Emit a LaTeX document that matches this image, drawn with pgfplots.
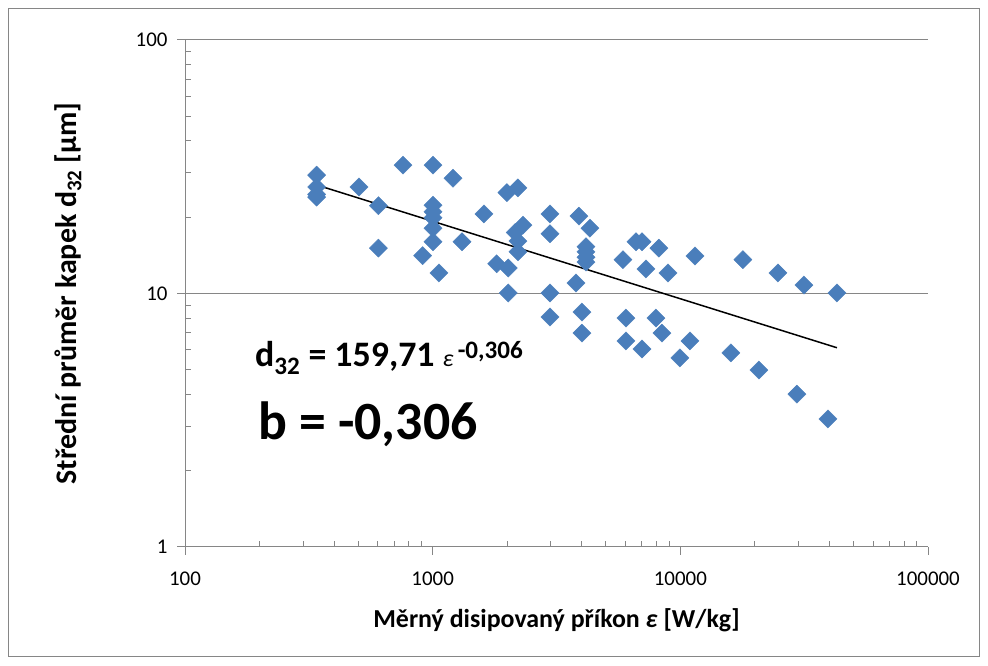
\documentclass[border=0pt]{standalone}
\usepackage{fontspec}
\setmainfont{Carlito}
\usepackage{pgfplots}
\pgfplotsset{compat=1.18}
\definecolor{mk}{HTML}{4A7EBB}
\definecolor{ax}{HTML}{868686}
\pgfplotstableread{
x y
340 29.3
340 26.3
340 24.6
340 24.0
504 26.3
604 22.2
604 15.1
759 32.1
911 14.1
1003 32.1
1003 22.3
1003 21.0
1003 19.9
1003 18.1
1003 16.0
1060 12.05
1208 28.5
1313 16.0
1611 20.6
1813 13.1
1995 25.0
2019 12.6
2019 10.05
2209 26.1
2152 17.4
2209 16.1
2209 14.6
2315 18.6
2976 20.6
2976 17.2
2976 10.05
2976 8.08
3789 11.0
3896 20.2
4006 8.45
4006 6.98
4159 15.3
4159 14.6
4159 13.9
4159 13.3
4315 18.1
5865 13.6
6030 8.0
6030 6.5
6620 16.0
6998 16.0
6998 6.04
7262 12.5
7969 8.0
8194 15.1
8427 6.98
8913 12.05
9959 5.57
10935 6.5
11455 14.06
16002 5.83
17892 13.6
20760 4.99
24772 12.05
29560 4.01
31550 10.8
39440 3.2
42880 10.05
}\pts
\begin{document}
\begin{tikzpicture}[x=1bp,y=1bp]
\useasboundingbox (-185,-119) rectangle (803,547);
\draw[color=ax, line width=1bp] (-176,-110) rectangle (794,538);
\begin{axis}[
  at={(0,0)}, anchor=south west,
  width=743bp, height=507bp, scale only axis,
  xmode=log, ymode=log,
  xmin=100, xmax=100000, ymin=1, ymax=100,
  axis x line*=bottom, axis y line*=left,
  axis line style={color=ax, line width=1bp},
  xtick={100,1000,10000,100000}, ytick={1,10,100},
  minor xtick={200,300,400,500,600,700,800,900,2000,3000,4000,5000,6000,7000,8000,9000,20000,30000,40000,50000,60000,70000,80000,90000},
  minor ytick={2,3,4,5,6,7,8,9,20,30,40,50,60,70,80,90},
  log ticks with fixed point,
  /pgf/number format/1000 sep={},
  /pgf/number format/assume math mode=true,
  tick label style={font=\fontsize{21}{21}\selectfont},
  tick style={color=ax, line width=1bp},
  tick align=outside,
  major tick length=8bp, minor tick length=6bp,
  minor x tick style={yshift=6bp}, minor y tick style={xshift=6bp},
  ymajorgrids, major grid style={color=ax, line width=1bp},
  xticklabel style={yshift=-13bp},
  yticklabel style={xshift=-6bp},
  xlabel={\textbf{Měrný disipovaný příkon \textit{ε} [W/kg]}},
  ylabel={\textbf{Střední průměr kapek d\textsubscript{32} [μm]}},
  xlabel style={font=\fontsize{26}{26}\selectfont, at={(axis description cs:0.5,-0.144)}, anchor=center},
  ylabel style={font=\fontsize{30}{30}\selectfont, at={(axis description cs:-0.1575,0.5)}, anchor=center},
  clip=false,
]
\addplot[only marks, mark=square*, mark size=6.4bp, mark options={rotate=45, fill=mk, draw=mk}] table[x=x,y=y]{\pts};
\addplot[black, line width=1.5bp, no marks] coordinates {(340,26.8) (42880,6.11)};
\end{axis}
\node[anchor=base west, font=\fontsize{36}{36}\selectfont\bfseries, inner sep=0] at (70,180) {d\textsubscript{32} = 159,71 {\mdseries\itshape\fontsize{24}{24}\selectfont ε}\textsuperscript{\,-0,306}};
\node[anchor=base west, font=\fontsize{54}{54}\selectfont\bfseries, inner sep=0] at (73,107) {b = -0,306};
\end{tikzpicture}
\end{document}
